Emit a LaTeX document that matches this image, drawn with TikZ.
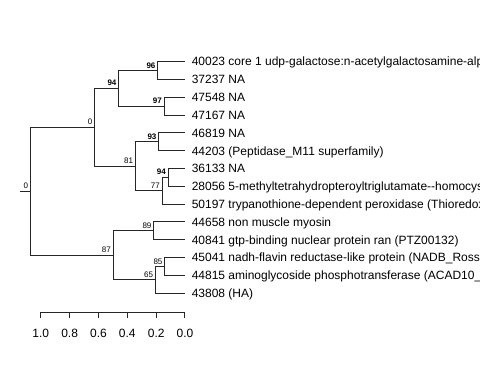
\documentclass[tikz,border=0pt]{standalone}
\usepackage{fontspec}
\setmainfont{Liberation Sans}
\usetikzlibrary{calc}
\begin{document}
\begin{tikzpicture}[x=0.75pt,y=-0.75pt,
  edge/.style={draw=black!85, line width=0.75pt},
  leaf/.style={anchor=base west, inner sep=0pt, font=\fontsize{9}{10}\selectfont},
  sup/.style={anchor=base east, inner sep=0pt, font=\fontsize{6}{7}\selectfont},
  supb/.style={anchor=base east, inner sep=0pt, font=\fontsize{6}{7}\selectfont\bfseries},
  ticklab/.style={anchor=base, inner sep=0pt, font=\fontsize{9}{10}\selectfont}]
\clip (0,0) rectangle (480,384);
% leaves
\coordinate (l1) at (185,61.7);
\coordinate (l2) at (185,79.5);
\coordinate (l3) at (185,97.3);
\coordinate (l4) at (185,115.1);
\coordinate (l5) at (185,132.96);
\coordinate (l6) at (185,150.8);
\coordinate (l7) at (185,168.6);
\coordinate (l8) at (185,186.4);
\coordinate (l9) at (185,204.2);
\coordinate (l10) at (185,222.0);
\coordinate (l11) at (185,239.8);
\coordinate (l12) at (185,257.7);
\coordinate (l13) at (185,275.5);
\coordinate (l14) at (185,293.3);
% internal nodes
\coordinate (n96) at (158,70.6);
\coordinate (n97) at (164.3,106.2);
\coordinate (n94) at (119,88.4);
\coordinate (n93) at (159,141.9);
\coordinate (n94b) at (168.3,177.5);
\coordinate (n77) at (162.3,190.85);
\coordinate (n81) at (135.7,166.4);
\coordinate (n0) at (95,127.4);
\coordinate (n89) at (154,230.9);
\coordinate (n85) at (165,266.6);
\coordinate (n65) at (155.7,279.95);
\coordinate (n87) at (113.3,255.4);
\coordinate (root) at (30.7,191.4);
\coordinate (rootstub) at (20.5,191.4);
% edges
\draw[edge] (rootstub) -- (root);
\draw[edge] (root) |- (n0);
\draw[edge] (root) |- (n87);
\draw[edge] (n0) |- (n94);
\draw[edge] (n0) |- (n81);
\draw[edge] (n94) |- (n96);
\draw[edge] (n94) |- (n97);
\draw[edge] (n96) |- (l1);
\draw[edge] (n96) |- (l2);
\draw[edge] (n97) |- (l3);
\draw[edge] (n97) |- (l4);
\draw[edge] (n81) |- (n93);
\draw[edge] (n81) |- (n77);
\draw[edge] (n93) |- (l5);
\draw[edge] (n93) |- (l6);
\draw[edge] (n77) |- (n94b);
\draw[edge] (n77) |- (l9);
\draw[edge] (n94b) |- (l7);
\draw[edge] (n94b) |- (l8);
\draw[edge] (n87) |- (n89);
\draw[edge] (n87) |- (n65);
\draw[edge] (n89) |- (l10);
\draw[edge] (n89) |- (l11);
\draw[edge] (n65) |- (n85);
\draw[edge] (n65) |- (l14);
\draw[edge] (n85) |- (l12);
\draw[edge] (n85) |- (l13);
% support labels
\node[sup] (sroot) at ($(root)+(-2.3,-2.5)$) {0};
\node[sup] (s0) at ($(n0)+(-2.3,-2.5)$) {0};
\node[supb] (s94) at ($(n94)+(-2.3,-2.5)$) {94};
\node[supb] (s96) at ($(n96)+(-2.3,-2.5)$) {96};
\node[supb] (s97) at ($(n97)+(-2.3,-2.5)$) {97};
\node[sup] (s81) at ($(n81)+(-2.3,-2.5)$) {81};
\node[supb] (s93) at ($(n93)+(-2.3,-2.5)$) {93};
\node[sup] (s77) at ($(n77)+(-2.3,-2.5)$) {77};
\node[supb] (s94b) at ($(n94b)+(-2.3,-2.5)$) {94};
\node[sup] (s87) at ($(n87)+(-2.3,-2.5)$) {87};
\node[sup] (s89) at ($(n89)+(-2.3,-2.5)$) {89};
\node[sup] (s65) at ($(n65)+(-2.3,-2.5)$) {65};
\node[sup] (s85) at ($(n85)+(-2.3,-2.5)$) {85};
% leaf labels
\node[leaf] (t1) at ($(l1)+(6.5,4.3)$) {40023 core 1 udp-galactose:n-acetylgalactosamine-alpha};
\node[leaf] (t2) at ($(l2)+(6.5,4.3)$) {37237 NA};
\node[leaf] (t3) at ($(l3)+(6.5,4.3)$) {47548 NA};
\node[leaf] (t4) at ($(l4)+(6.5,4.3)$) {47167 NA};
\node[leaf] (t5) at ($(l5)+(6.5,4.3)$) {46819 NA};
\node[leaf] (t6) at ($(l6)+(6.5,4.3)$) {44203 (Peptidase\_M11 superfamily)};
\node[leaf] (t7) at ($(l7)+(6.5,4.3)$) {36133 NA};
\node[leaf] (t8) at ($(l8)+(6.5,4.3)$) {28056 5-methyltetrahydropteroyltriglutamate-{}-homocysteine};
\node[leaf] (t9) at ($(l9)+(6.5,4.3)$) {50197 trypanothione-dependent peroxidase (Thioredoxin};
\node[leaf] (t10) at ($(l10)+(6.5,4.3)$) {44658 non muscle myosin};
\node[leaf] (t11) at ($(l11)+(6.5,4.3)$) {40841 gtp-binding nuclear protein ran (PTZ00132)};
\node[leaf] (t12) at ($(l12)+(6.5,4.3)$) {45041 nadh-flavin reductase-like protein (NADB\_Rossmann};
\node[leaf] (t13) at ($(l13)+(6.5,4.3)$) {44815 aminoglycoside phosphotransferase (ACAD10\_};
\node[leaf] (t14) at ($(l14)+(6.5,4.3)$) {43808 (HA)};
% axis
\coordinate (a10) at (40.7,312.5);
\coordinate (a8) at (69.6,312.5);
\coordinate (a6) at (98.5,312.5);
\coordinate (a4) at (127.3,312.5);
\coordinate (a2) at (156.2,312.5);
\coordinate (a0) at (185,312.5);
\draw[edge] (a10) -- (a0);
\foreach \a/\t in {a10/1.0,a8/0.8,a6/0.6,a4/0.4,a2/0.2,a0/0.0}{
  \draw[edge] (\a) -- ++(0,6);
  \node[ticklab] (lab\a) at ($(\a)+(0,25)$) {\t};
}
\end{tikzpicture}
\end{document}
